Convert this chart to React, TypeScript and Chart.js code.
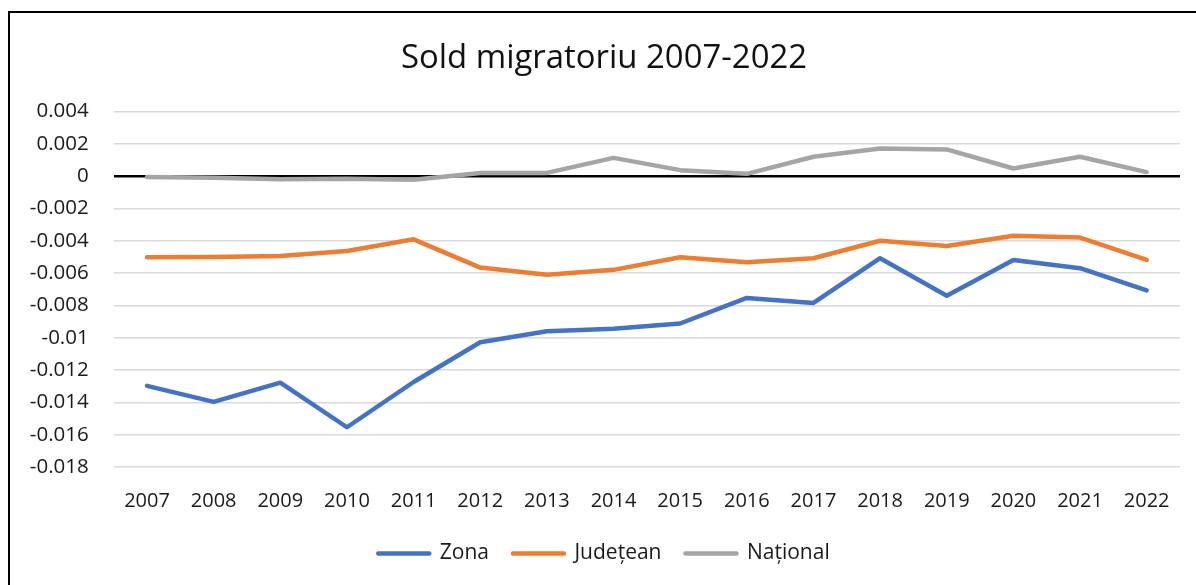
import React, { useEffect, useRef } from "react";
import { Chart, registerables } from "chart.js";

Chart.register(...registerables);

const years = ["2007","2008","2009","2010","2011","2012","2013","2014","2015","2016","2017","2018","2019","2020","2021","2022"];
const zona = [-0.01298,-0.01397,-0.01278,-0.01554,-0.01274,-0.01028,-0.0096,-0.00945,-0.00912,-0.00754,-0.00785,-0.00508,-0.0074,-0.00519,-0.0057,-0.00707];
const judetean = [-0.00502,-0.005,-0.00494,-0.00463,-0.00391,-0.00566,-0.00611,-0.0058,-0.00502,-0.00533,-0.00508,-0.004,-0.00433,-0.00369,-0.0038,-0.00519];
const national = [-0.00006,-0.0001,-0.0002,-0.00016,-0.00023,0.0002,0.0002,0.00113,0.00037,0.00014,0.0012,0.00171,0.00165,0.00047,0.0012,0.00025];
const yTickValues = [0.004,0.002,0,-0.002,-0.004,-0.006,-0.008,-0.01,-0.012,-0.014,-0.016,-0.018];
const seriesNames = ["Zona", "Județean", "Național"];
const titleText = "Sold migratoriu 2007-2022";

const FONT = "'Open Sans', 'Noto Sans', sans-serif";

export default function App() {
  const ref = useRef<HTMLCanvasElement | null>(null);
  useEffect(() => {
    if (!ref.current) return;
    const colors = ["#4472C4", "#ED7D31", "#A5A5A5"];
    const values = [zona, judetean, national];
    const chart = new Chart(ref.current, {
      type: "line",
      data: {
        labels: years,
        datasets: values.map((v, i) => ({
          label: seriesNames[i],
          data: v,
          borderColor: colors[i],
          backgroundColor: colors[i],
          borderWidth: 4.5,
          borderCapStyle: "round",
          borderJoinStyle: "round",
          pointRadius: 0,
          tension: 0,
        })),
      },
      options: {
        animation: false,
        responsive: false,
        devicePixelRatio: 1,
        layout: { padding: { left: 28, right: 16, top: 0, bottom: 11 } },
        scales: {
          x: {
            offset: true,
            grid: { display: false, drawTicks: false },
            border: { display: false },
            ticks: { color: "#1a1a1a", font: { family: FONT, size: 20 }, padding: 22, maxRotation: 0, autoSkip: false },
            afterFit: (s: any) => { s.height = 52; },
          },
          y: {
            min: -0.018,
            max: 0.004,
            afterBuildTicks: (s: any) => { s.ticks = yTickValues.map((v) => ({ value: v })); },
            grid: {
              drawTicks: false,
              color: (c: any) => (c.tick && Math.abs(c.tick.value) < 1e-9 ? "#000000" : "#d9d9d9"),
              lineWidth: (c: any) => (c.tick && Math.abs(c.tick.value) < 1e-9 ? 2.5 : 1.5),
            },
            border: { display: false },
            ticks: {
              color: "#1a1a1a",
              font: { family: FONT, size: 20.5 },
              padding: 25,
              callback: (v: any) => String(Number(Number(v).toFixed(3))),
            },
            afterFit: (s: any) => { s.width = 85.7; },
          },
        },
        plugins: {
          title: {
            display: true,
            text: titleText,
            color: "#111111",
            font: { family: FONT, size: 32.9, weight: "normal" },
            padding: { top: 38.5, bottom: 33.5 },
          },
          legend: {
            position: "bottom",
            labels: {
              boxWidth: 51,
              boxHeight: 0,
              padding: 24,
              color: "#1a1a1a",
              font: { family: FONT, size: 21 },
            },
          },
          tooltip: { enabled: false },
        },
      },
    });
    return () => chart.destroy();
  }, []);
  return (
    <>
      <canvas ref={ref} width={1196} height={585} style={{ position: "fixed", left: 0, top: 0, width: 1196, height: 585 }} />
      <div style={{ position: "fixed", left: 8, top: 11, width: 1188, height: 574, boxSizing: "border-box", borderLeft: "2px solid #000", borderTop: "2px solid #000", pointerEvents: "none" }} />
    </>
  );
}
